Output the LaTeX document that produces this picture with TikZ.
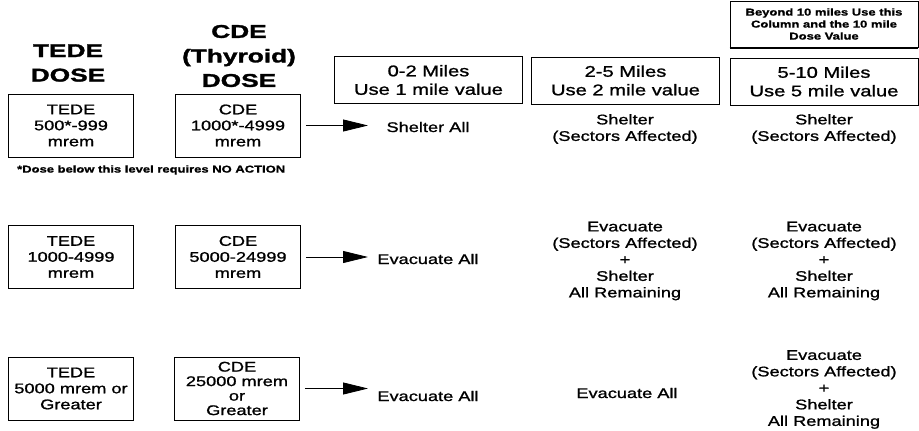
\documentclass[tikz,border=0pt]{standalone}
\usepackage{fontspec}
\setmainfont{Liberation Sans}[FakeStretch=1.3,FakeBold=1.2]
\newfontfamily\headfont{Liberation Sans}[FakeStretch=1.42,FakeBold=1.6]
\usetikzlibrary{arrows.meta,positioning}

\tikzset{
  heading/.style={align=center, inner sep=0pt, font=\headfont\bfseries\fontsize{18.5}{24.5}\selectfont},
  dosebox/.style={draw, line width=0.9pt, minimum width=125pt, minimum height=63pt,
    align=center, inner sep=0pt, font=\fontsize{14}{16}\selectfont},
  milebox/.style={draw, line width=0.9pt, minimum width=188pt, minimum height=47pt,
    align=center, inner sep=0pt, font=\fontsize{15.5}{18.5}\selectfont},
  action/.style={align=center, inner sep=0pt, font=\fontsize{14}{16.5}\selectfont},
  smallnote/.style={align=center, inner sep=0pt, font=\bfseries\fontsize{10}{12}\selectfont},
  flow/.style={-{Triangle[length=25pt,width=12pt]}, line width=0.8pt, shorten <=5pt},
}

\begin{document}
\begin{tikzpicture}[x=1pt,y=-1pt]
  \useasboundingbox (0,0) rectangle (919,431);

  % headings
  \node[heading] (tedehead) at (68,63) {TEDE\\DOSE};
  \node[heading] (cdehead) at (239,56) {CDE\\(Thyroid)\\DOSE};

  % distance columns
  \node[milebox] (mile1) at (428.5,80) {0-2 Miles\\Use 1 mile value};
  \node[milebox] (mile2) at (625.5,80.5) {2-5 Miles\\Use 2 mile value};
  \node[milebox] (mile3) at (824,81.5) {5-10 Miles\\Use 5 mile value};
  \node[milebox, smallnote, minimum height=46pt] (beyond) at (824,24)
    {Beyond 10 miles Use this\\Column and the 10 mile\\Dose Value};
  \draw[line width=2pt] ([yshift=-1pt]beyond.south west) -- ([yshift=-1pt]beyond.south east);

  % dose boxes
  \node[dosebox] (tede1) at (71,125.5) {TEDE\\500*-999\\mrem};
  \node[dosebox] (cde1) at (238,125.5) {CDE\\1000*-4999\\mrem};
  \node[smallnote, anchor=west] (footnote) at (17,170) {*Dose below this level requires NO ACTION};
  \node[dosebox] (tede2) at (71,257) {TEDE\\1000-4999\\mrem};
  \node[dosebox] (cde2) at (238,257) {CDE\\5000-24999\\mrem};
  \node[dosebox] (tede3) at (71,388.5) {TEDE\\5000 mrem or\\Greater};
  \node[dosebox, font=\fontsize{14}{14.5}\selectfont] (cde3) at (237,388.5) {CDE\\25000 mrem\\or\\Greater};

  % actions
  \node[action] (act1) at (428,127) {Shelter All};
  \node[action] (act2) at (428,259) {Evacuate All};
  \node[action] (act3) at (428,396) {Evacuate All};
  \node[action] (mid1) at (625,129) {Shelter\\(Sectors Affected)};
  \node[action] (mid2) at (625,261) {Evacuate\\(Sectors Affected)\\+\\Shelter\\All Remaining};
  \node[action] (mid3) at (627,393) {Evacuate All};
  \node[action] (far1) at (824,129) {Shelter\\(Sectors Affected)};
  \node[action] (far2) at (824,261) {Evacuate\\(Sectors Affected)\\+\\Shelter\\All Remaining};
  \node[action] (far3) at (824,389.5) {Evacuate\\(Sectors Affected)\\+\\Shelter\\All Remaining};

  % arrows
  \coordinate (tip) at (368,0);
  \foreach \r in {1,2,3}
    \draw[flow] (cde\r.east) -- (cde\r.east -| tip);
\end{tikzpicture}
\end{document}
